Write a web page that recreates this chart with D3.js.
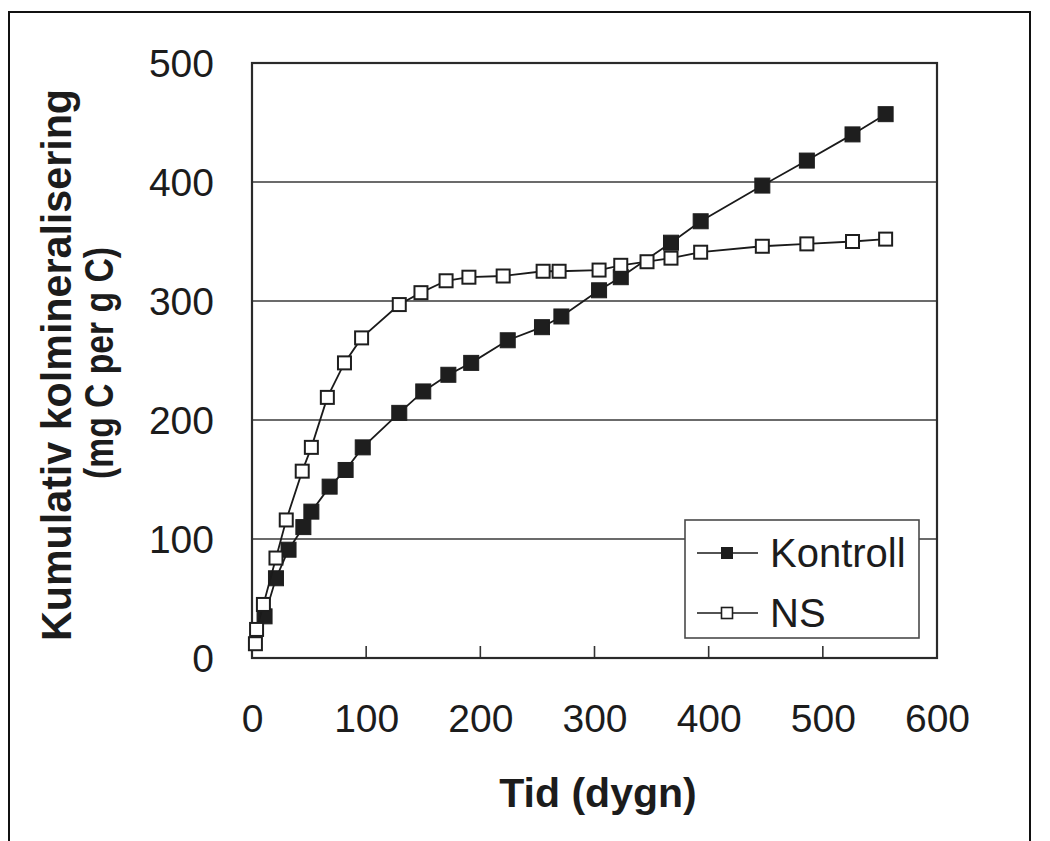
<!DOCTYPE html>
<html>
<head>
<meta charset="utf-8">
<script src="https://cdn.jsdelivr.net/npm/d3@7"></script>
<style>
  html, body { margin: 0; padding: 0; background: #fff; }
  svg { display: block; }
  text { font-family: "Liberation Sans", Arial, Helvetica, sans-serif; fill: #1c1c1c; }
</style>
</head>
<body>
<svg id="chart" width="1050" height="841"></svg>
<script>
// ---- Data ----
const kontrollDays   = [11, 21, 32, 45, 52, 68, 82, 97, 129, 150, 172, 192, 224, 254, 271, 304, 323, 367, 393, 447, 486, 526, 555];
const kontrollValues = [35, 67, 91, 110, 123, 144, 158, 177, 206, 224, 238, 248, 267, 278, 287, 309, 320, 349, 367, 397, 418, 440, 457];
const nsDays   = [3, 4, 10, 21, 30, 44, 52, 66, 81, 96, 129, 148, 170, 190, 220, 255, 269, 304, 323, 346, 367, 393, 447, 486, 526, 555];
const nsValues = [12, 24, 45, 84, 116, 157, 177, 219, 248, 269, 297, 307, 317, 320, 321, 325, 325, 326, 330, 333, 336, 341, 346, 348, 350, 352];
const xTickValues = [0, 100, 200, 300, 400, 500, 600];
const yTickValues = [0, 100, 200, 300, 400, 500];
const seriesNames = ["Kontroll", "NS"];
const xTitle = "Tid (dygn)";
const yTitle1 = "Kumulativ kolmineralisering";
const yTitle2 = "(mg C per g C)";

const kontroll = kontrollDays.map((d, i) => ({ x: d, y: kontrollValues[i] }));
const ns = nsDays.map((d, i) => ({ x: d, y: nsValues[i] }));

const svg = d3.select("#chart");

// outer border
svg.append("rect").attr("x", 9).attr("y", 12).attr("width", 1021).attr("height", 840)
  .attr("fill", "none").attr("stroke", "#111").attr("stroke-width", 2);

const x = d3.scaleLinear().domain([0, 600]).range([252, 937]);
const y = d3.scaleLinear().domain([0, 500]).range([658, 63]);

// gridlines
svg.append("g").selectAll("line").data(yTickValues.filter(v => v > 0 && v < 500)).join("line")
  .attr("x1", x(0)).attr("x2", x(600))
  .attr("y1", d => y(d)).attr("y2", d => y(d))
  .attr("stroke", "#3a3a3a").attr("stroke-width", 1.6);

// x tick marks (inside, pointing up)
svg.append("g").selectAll("line").data(xTickValues.filter(v => v > 0 && v < 600)).join("line")
  .attr("x1", d => x(d)).attr("x2", d => x(d))
  .attr("y1", y(0)).attr("y2", y(0) - 12)
  .attr("stroke", "#333").attr("stroke-width", 1.6);

// plot frame
svg.append("rect").attr("x", x(0)).attr("y", y(500))
  .attr("width", x(600) - x(0)).attr("height", y(0) - y(500))
  .attr("fill", "none").attr("stroke", "#2a2a2a").attr("stroke-width", 2.2);

// axis labels via d3 axes (lines hidden)
const xAxis = svg.append("g").attr("transform", `translate(0,${y(0)})`)
  .call(d3.axisBottom(x).tickValues(xTickValues).tickSize(0).tickPadding(0).tickFormat(d3.format("d")));
xAxis.select(".domain").remove();
xAxis.selectAll("text").attr("y", 60).attr("dy", "0.35em")
  .style("font-size", "39px").style("fill", "#1c1c1c");

const yAxis = svg.append("g").attr("transform", `translate(214,0)`)
  .call(d3.axisLeft(y).tickValues(yTickValues).tickSize(0).tickPadding(0).tickFormat(d3.format("d")));
yAxis.select(".domain").remove();
yAxis.selectAll("text").attr("x", 0).attr("dy", "0.35em")
  .style("font-size", "39px").style("fill", "#1c1c1c");

// titles
svg.append("text").attr("x", 598).attr("y", 807).attr("text-anchor", "middle")
  .style("font-size", "41px").style("font-weight", "bold").text(xTitle);

svg.append("text").attr("transform", "translate(71,365) rotate(-90)").attr("text-anchor", "middle")
  .attr("textLength", 552).attr("lengthAdjust", "spacingAndGlyphs")
  .style("font-size", "43px").style("font-weight", "bold").text(yTitle1);
svg.append("text").attr("transform", "translate(113,363) rotate(-90)").attr("text-anchor", "middle")
  .attr("textLength", 232).attr("lengthAdjust", "spacingAndGlyphs")
  .style("font-size", "41px").style("font-weight", "bold").text(yTitle2);

// lines
const line = d3.line().x(d => x(d.x)).y(d => y(d.y));
const ms = 15;

svg.append("path").datum(kontroll).attr("d", line)
  .attr("fill", "none").attr("stroke", "#1a1a1a").attr("stroke-width", 1.8);
svg.append("g").selectAll("rect").data(kontroll).join("rect")
  .attr("x", d => x(d.x) - ms / 2).attr("y", d => y(d.y) - ms / 2)
  .attr("width", ms).attr("height", ms)
  .attr("fill", "#1e1e1e").attr("stroke", "#1e1e1e").attr("stroke-width", 1);

svg.append("path").datum(ns).attr("d", line)
  .attr("fill", "none").attr("stroke", "#1a1a1a").attr("stroke-width", 1.8);
svg.append("g").selectAll("rect").data(ns).join("rect")
  .attr("x", d => x(d.x) - (ms - 2) / 2).attr("y", d => y(d.y) - (ms - 2) / 2)
  .attr("width", ms - 2).attr("height", ms - 2)
  .attr("fill", "#fff").attr("stroke", "#1e1e1e").attr("stroke-width", 2);

// legend
const lg = svg.append("g");
lg.append("rect").attr("x", 685).attr("y", 520).attr("width", 234).attr("height", 118)
  .attr("fill", "#fff").attr("stroke", "#4a4a4a").attr("stroke-width", 1.6);
const legendRows = [
  { name: seriesNames[0], cy: 553, filled: true },
  { name: seriesNames[1], cy: 613, filled: false }
];
legendRows.forEach(r => {
  lg.append("line").attr("x1", 697).attr("x2", 758).attr("y1", r.cy).attr("y2", r.cy)
    .attr("stroke", "#1a1a1a").attr("stroke-width", 1.6);
  lg.append("rect").attr("x", 727 - 5.5).attr("y", r.cy - 5.5).attr("width", 11).attr("height", 11)
    .attr("fill", r.filled ? "#1e1e1e" : "#fff").attr("stroke", "#1e1e1e").attr("stroke-width", r.filled ? 1 : 1.6);
  lg.append("text").attr("x", 770).attr("y", r.cy).attr("dy", "0.35em")
    .style("font-size", "40px").text(r.name);
});
</script>
</body>
</html>
